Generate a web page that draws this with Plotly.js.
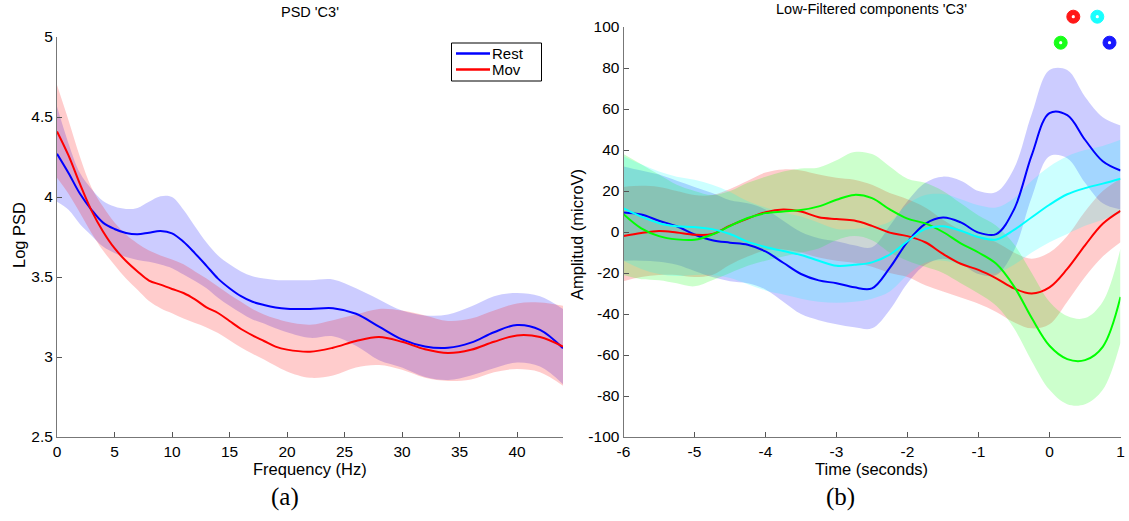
<!DOCTYPE html>
<html><head><meta charset="utf-8">
<script src="https://cdn.plot.ly/plotly-3.0.1.min.js"></script>
<style>html,body{margin:0;padding:0;background:#fff;}#chart{width:1129px;height:521px;}</style>
</head><body><div id="chart"></div>
<script>
// ---------- Panel (a): PSD 'C3' ----------
const freq = [0,1,2,3,4,5,6,7,8,9,10,11,12,13,14,15,16,17,18,19,20,22,24,26,28,30,32,34,36,38,40,42,44];
const restMean  = [4.27,4.15,4.02,3.92,3.84,3.80,3.775,3.767,3.777,3.787,3.773,3.72,3.648,3.57,3.49,3.43,3.38,3.345,3.325,3.31,3.302,3.30,3.305,3.27,3.19,3.11,3.066,3.058,3.09,3.155,3.20,3.17,3.055];
const restUpper = [4.565,4.335,4.15,4.05,3.975,3.94,3.925,3.932,3.97,4.005,4.0,3.92,3.815,3.715,3.635,3.58,3.535,3.505,3.49,3.482,3.48,3.48,3.485,3.43,3.36,3.29,3.26,3.265,3.315,3.38,3.40,3.38,3.30];
const restLower = [3.97,3.92,3.83,3.76,3.69,3.65,3.625,3.607,3.595,3.578,3.555,3.515,3.475,3.43,3.37,3.32,3.275,3.235,3.21,3.18,3.155,3.12,3.13,3.07,2.98,2.935,2.875,2.856,2.885,2.93,2.965,2.94,2.83];
const movMean   = [4.41,4.26,4.08,3.915,3.785,3.68,3.60,3.535,3.478,3.452,3.425,3.40,3.36,3.31,3.275,3.225,3.175,3.135,3.10,3.065,3.046,3.033,3.058,3.10,3.125,3.095,3.048,3.025,3.045,3.095,3.135,3.125,3.065];
const movUpper  = [4.70,4.48,4.25,4.06,3.94,3.84,3.765,3.71,3.665,3.635,3.61,3.58,3.535,3.49,3.44,3.39,3.345,3.30,3.265,3.24,3.22,3.202,3.23,3.265,3.30,3.29,3.26,3.225,3.24,3.29,3.335,3.34,3.32];
const movLower  = [4.12,4.02,3.9,3.775,3.665,3.575,3.49,3.42,3.35,3.305,3.273,3.24,3.212,3.185,3.15,3.105,3.06,3.02,2.985,2.945,2.91,2.87,2.885,2.935,2.95,2.92,2.87,2.85,2.86,2.905,2.925,2.905,2.82];
const psdXTicks = [0,5,10,15,20,25,30,35,40];
const psdYTicks = [2.5,3,3.5,4,4.5,5];
const psdYText  = ['2.5','3','3.5','4','4.5','5'];
const psdLegend = ['Rest','Mov'];

// ---------- Panel (b): Low-Filtered components 'C3' ----------
const time = [-6,-5.75,-5.5,-5.25,-5,-4.75,-4.5,-4.25,-4,-3.75,-3.5,-3.25,-3,-2.75,-2.5,-2.25,-2,-1.75,-1.5,-1.25,-1,-0.75,-0.5,-0.25,0,0.25,0.5,0.75,1];
const blueMean  = [9.5,8.5,5.5,2.8,-1.2,-4,-5.2,-6.2,-9.5,-15,-20.5,-23.6,-25,-27,-27.5,-17.5,-4.8,4,7.1,4.7,-0.3,-1.0,11,37.5,58,57,45,34.5,30];
const blueUpper = [32,30,28,25,22,19,15.5,14,11,5.5,0,-3,-4.5,-6.5,-7.5,3,15,24,27,25,20,19.5,31,57.5,79,79,66,56,52];
const blueLower = [-14,-14,-14.5,-16,-19,-22,-24,-25,-28,-34,-40,-43,-45,-46.5,-47,-38,-25,-16,-13,-15.5,-20.5,-21,-9,17,37,36,24,14,11];
const redMean   = [-2,-0.5,0.5,-0.2,-1.3,-1,3.1,6.6,9.7,11,10,7.2,6.3,5.6,3,-0.3,-2,-5,-10.7,-15.5,-18.5,-22.6,-27.5,-30,-27,-18,-6.5,4,10.3];
const redUpper  = [22,22.5,22,20,18,18,21,25,29,30.5,30,28,26.5,25.5,23,19,16,12,6,1,-2,-5,-10,-13,-10,-2,10,20,26];
const redLower  = [-24,-22,-21,-21,-22,-21,-16,-12,-9,-8.5,-10,-12.5,-14,-15,-17,-20,-22,-26,-29,-32,-35,-39,-44,-47,-45,-34,-22,-12,-5];
const greenMean = [8.7,1.8,-2,-3.6,-3.8,-1.2,2.9,6.8,9.2,10,10.7,12.5,15.7,18.1,16.5,11,6.5,4.2,0,-5.5,-10,-15.5,-26.5,-42,-55.5,-62,-62.5,-56,-31.7];
const greenUpper= [38,33,28,23,20,18,20,24,27,29.5,31,31.5,35,39,38,32,26,24,20,14,8,3,-6,-20,-34,-41,-42,-34,-8];
const greenLower= [-21,-23,-23.5,-25,-26.5,-23.5,-20,-16.5,-14,-12,-10,-8,-4,-2,-4,-10,-14,-17,-20,-25,-30,-36,-47,-63,-77,-84,-84,-77,-54];
const cyanMean  = [11.5,7.5,4.3,2.8,2.4,1.4,-1,-4.8,-7.3,-9.3,-11.2,-14,-16.5,-16,-14.8,-11,-4.5,1.5,2.8,0.6,-2.5,-3.7,1,7.2,13.3,18.4,21.4,23.6,26];
const cyanUpper = [37,33,29.5,27,25.5,23,19.5,15,12,9.5,7.5,4.5,1.5,1.5,2.5,5,13.5,18,18.5,16,13,12,16.5,25,32,37,40,42,45];
const cyanLower = [-14,-18,-20.5,-21.5,-21,-21,-22.5,-25.5,-28.5,-30.5,-32.5,-34,-34.5,-34,-32.5,-29,-21,-15,-14,-16,-19,-20,-16,-10,-5,-1,3,6,9];
const lfpXTicks = [-6,-5,-4,-3,-2,-1,0,1];
const lfpXText  = ['-6','-5','-4','-3','-2','-1','0','1'];
const lfpYTicks = [-100,-80,-60,-40,-20,0,20,40,60,80,100];
const lfpYText  = ['-100','-80','-60','-40','-20','0','20','40','60','80','100'];
const dotColors = ['#ff0000','#00ffff','#00ff00','#0000ff'];

// ---------- build ----------
const W = 1129, H = 521;
const sp = {shape:'spline', smoothing:1};
function band(x, lo, hi, rgba, xa, ya){
  return [
    {x:x, y:lo, xaxis:xa, yaxis:ya, type:'scatter', mode:'lines', line:Object.assign({width:0, color:rgba}, sp), showlegend:false, hoverinfo:'skip'},
    {x:x, y:hi, xaxis:xa, yaxis:ya, type:'scatter', mode:'lines', line:Object.assign({width:0, color:rgba}, sp), fill:'tonexty', fillcolor:rgba, showlegend:false, hoverinfo:'skip'}
  ];
}
function line(x, y, color, xa, ya, name){
  return {x:x, y:y, xaxis:xa, yaxis:ya, type:'scatter', mode:'lines', name:name, showlegend:false,
          line:Object.assign({width:2, color:color}, sp)};
}
const A = 0.2;
const traces = [].concat(
  band(freq, restLower, restUpper, `rgba(0,0,255,${A})`, 'x', 'y'),
  band(freq, movLower, movUpper, `rgba(255,0,0,${A})`, 'x', 'y'),
  [line(freq, restMean, '#0000ff', 'x', 'y', psdLegend[0]),
   line(freq, movMean, '#ff0000', 'x', 'y', psdLegend[1])],
  band(time, blueLower, blueUpper, `rgba(0,0,255,${A})`, 'x2', 'y2'),
  band(time, redLower, redUpper, `rgba(255,0,0,${A})`, 'x2', 'y2'),
  band(time, greenLower, greenUpper, `rgba(0,255,0,${A})`, 'x2', 'y2'),
  band(time, cyanLower, cyanUpper, `rgba(0,255,255,${A})`, 'x2', 'y2'),
  [line(time, blueMean, '#0000ff', 'x2', 'y2', 'blue'),
   line(time, redMean, '#ff0000', 'x2', 'y2', 'red'),
   line(time, greenMean, '#00ff00', 'x2', 'y2', 'green'),
   line(time, cyanMean, '#00ffff', 'x2', 'y2', 'cyan')]
);

const FS = 16.5, TFS = 15.5;
const sans = 'Liberation Sans, Arial, sans-serif';
const axCommon = {showgrid:false, zeroline:false, showline:true, linecolor:'#777', linewidth:1,
  ticks:'inside', ticklen:5, tickwidth:1, tickcolor:'#555',
  tickfont:{family:sans, size:TFS, color:'#000'}, fixedrange:true};
const px = v => v / W, py = v => 1 - v / H;
const font = {family:sans, color:'#000'};

// compact legend (MATLAB style) and indicator dots, in page pixels
const shapes = [
  {type:'rect', xref:'paper', yref:'paper', x0:px(451.5), x1:px(541.5), y0:py(43), y1:py(81), line:{color:'#000', width:1}, fillcolor:'#fff', layer:'above'},
  {type:'line', xref:'paper', yref:'paper', x0:px(456), x1:px(490), y0:py(53.5), y1:py(53.5), line:{color:'#0000ff', width:2.5}, layer:'above'},
  {type:'line', xref:'paper', yref:'paper', x0:px(456), x1:px(490), y0:py(69.5), y1:py(69.5), line:{color:'#ff0000', width:2.5}, layer:'above'}
];
const dotPix = [[1073.3,16.7],[1097.3,16.7],[1060.7,42.7],[1109.5,42.7]];
dotPix.forEach((p, i) => {
  const r = 6.5, r2 = 1.6;
  shapes.push({type:'circle', xref:'paper', yref:'paper', x0:px(p[0]-r), x1:px(p[0]+r), y0:py(p[1]+r), y1:py(p[1]-r), fillcolor:dotColors[i], line:{width:1, color:dotColors[i]}, opacity:0.9, layer:'above'});
  shapes.push({type:'circle', xref:'paper', yref:'paper', x0:px(p[0]-r2), x1:px(p[0]+r2), y0:py(p[1]+r2), y1:py(p[1]-r2), fillcolor:'#fff', line:{width:0}, layer:'above'});
});

const layout = {
  width:W, height:H, margin:{l:0,r:0,t:0,b:0}, paper_bgcolor:'#fff', plot_bgcolor:'#fff',
  font:{family:sans, size:FS, color:'#000'},
  showlegend:false,
  xaxis:Object.assign({}, axCommon, {domain:[px(57), px(563)], range:[0,44], tickvals:psdXTicks, anchor:'y'}),
  yaxis:Object.assign({}, axCommon, {domain:[1-437/H, 1-37/H], range:[2.5,5], tickvals:psdYTicks, ticktext:psdYText, anchor:'x'}),
  xaxis2:Object.assign({}, axCommon, {domain:[px(623.5), px(1120.5)], range:[-6,1], tickvals:lfpXTicks, ticktext:lfpXText, anchor:'y2'}),
  yaxis2:Object.assign({}, axCommon, {domain:[1-437/H, 1-27/H], range:[-100,100], tickvals:lfpYTicks, ticktext:lfpYText, anchor:'x2'}),
  shapes:shapes,
  annotations:[
    {text:psdLegend[0], x:px(491), y:py(53), xref:'paper', yref:'paper', showarrow:false, xanchor:'left', yanchor:'middle', borderpad:0, font:Object.assign({size:15}, font)},
    {text:psdLegend[1], x:px(491), y:py(70), xref:'paper', yref:'paper', showarrow:false, xanchor:'left', yanchor:'middle', borderpad:0, font:Object.assign({size:15}, font)},
    {text:"PSD 'C3'", x:px(310), y:py(12), xref:'paper', yref:'paper', showarrow:false, xanchor:'center', yanchor:'middle', font:Object.assign({size:14.5}, font)},
    {text:"Low-Filtered components 'C3'", x:px(872), y:py(9), xref:'paper', yref:'paper', showarrow:false, xanchor:'center', yanchor:'middle', font:Object.assign({size:14.5}, font)},
    {text:'Frequency (Hz)', x:px(310), y:py(469), xref:'paper', yref:'paper', showarrow:false, xanchor:'center', yanchor:'middle', font:Object.assign({size:FS}, font)},
    {text:'Time (seconds)', x:px(872), y:py(469), xref:'paper', yref:'paper', showarrow:false, xanchor:'center', yanchor:'middle', font:Object.assign({size:FS}, font)},
    {text:'Log PSD', x:px(19), y:py(235), xref:'paper', yref:'paper', showarrow:false, textangle:-90, xanchor:'center', yanchor:'middle', font:Object.assign({size:FS}, font)},
    {text:'Amplitud (microV)', x:px(577), y:py(235), xref:'paper', yref:'paper', showarrow:false, textangle:-90, xanchor:'center', yanchor:'middle', font:Object.assign({size:FS}, font)},
    {text:'(a)', x:px(285), y:py(497), xref:'paper', yref:'paper', showarrow:false, xanchor:'center', yanchor:'middle', font:{family:'Liberation Serif, DejaVu Serif, serif', size:25, color:'#000'}},
    {text:'(b)', x:px(840), y:py(497), xref:'paper', yref:'paper', showarrow:false, xanchor:'center', yanchor:'middle', font:{family:'Liberation Serif, DejaVu Serif, serif', size:25, color:'#000'}}
  ]
};
Plotly.newPlot('chart', traces, layout, {staticPlot:true, displayModeBar:false});
</script></body></html>
